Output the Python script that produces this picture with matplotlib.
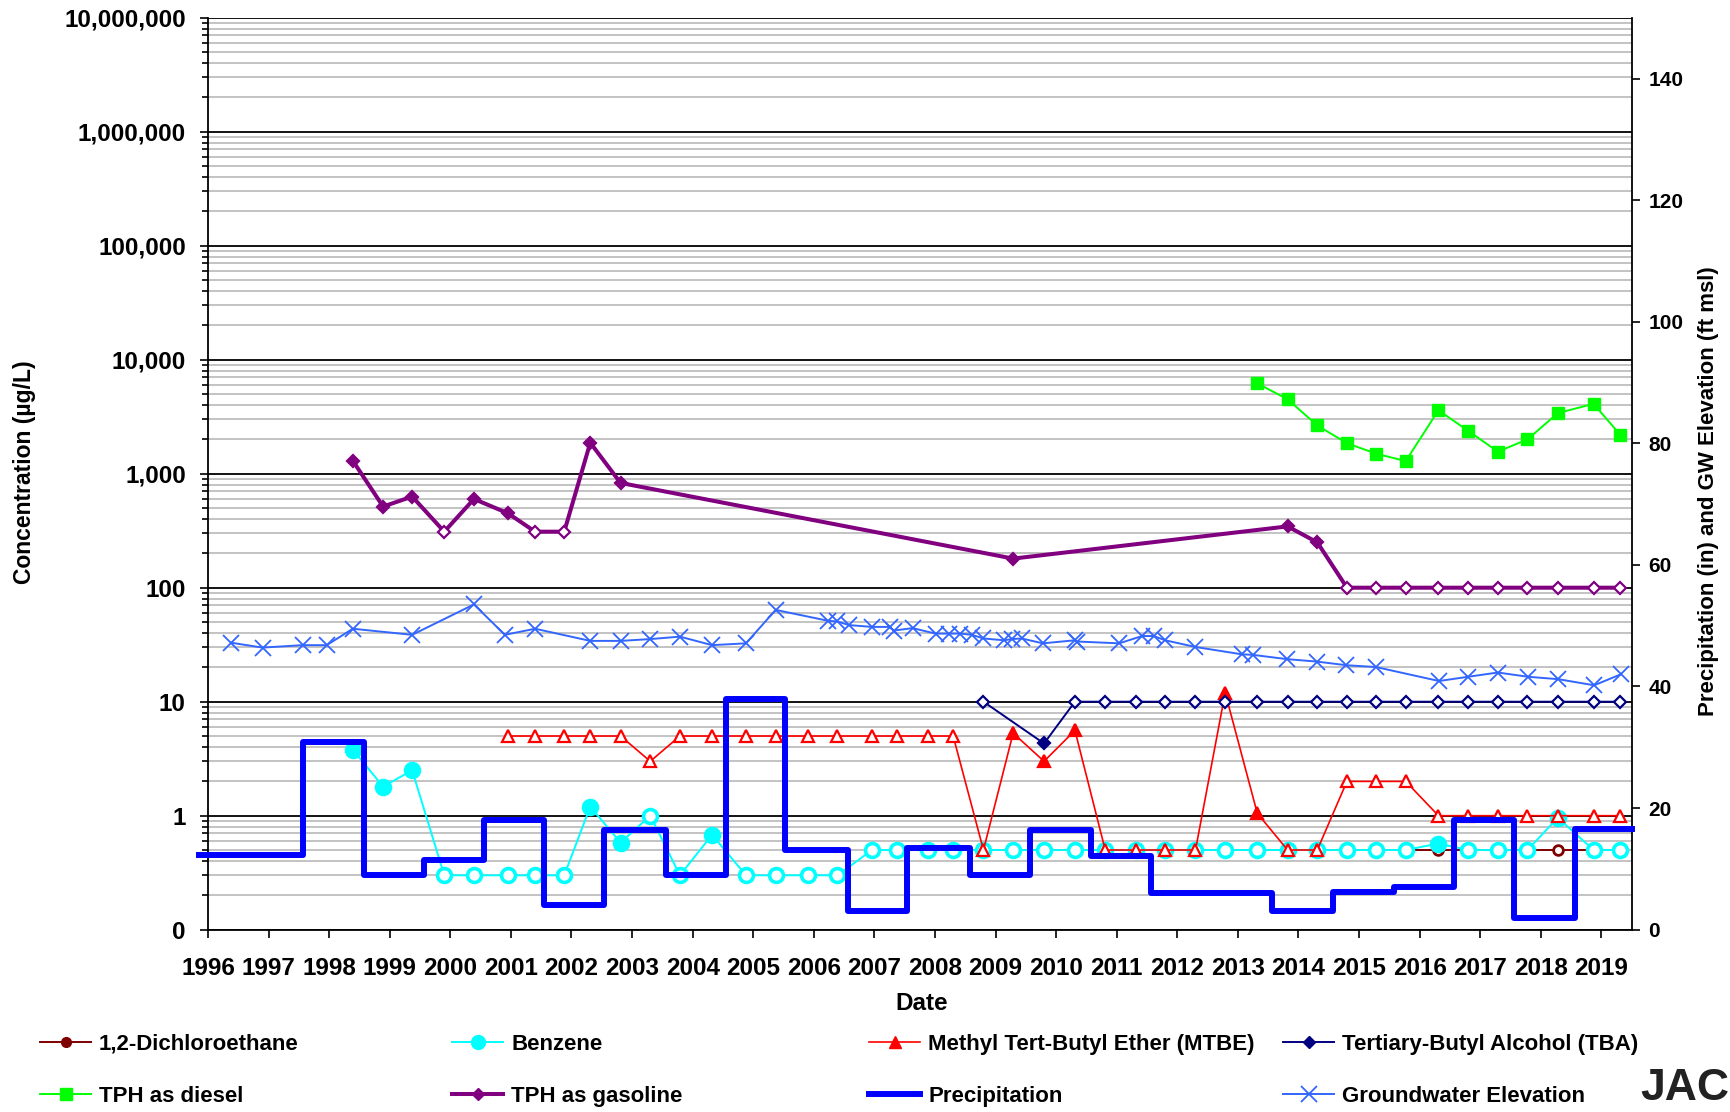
import numpy as np
import matplotlib.pyplot as plt
from matplotlib.lines import Line2D
from matplotlib.ticker import FixedLocator, FuncFormatter, NullFormatter
from matplotlib.transforms import Bbox, TransformedBbox

plt.rcParams['font.family'] = ['Liberation Sans', 'DejaVu Sans']
plt.rcParams['font.weight'] = 'bold'

# sampling dates are decimal years; det = 1 detected, 0 = not detected (open marker)
gas_date = [1998.39, 1998.89, 1999.37, 1999.90, 2000.39, 2000.95, 2001.40, 2001.88,
            2002.31, 2002.81, 2009.29, 2013.82, 2014.31, 2014.80, 2015.28, 2015.77,
            2016.31, 2016.80, 2017.29, 2017.78, 2018.28, 2018.87, 2019.31]
gas_val = [1300, 515, 630, 310, 600, 450, 310, 310, 1870, 830, 180, 345, 250,
           100, 100, 100, 100, 100, 100, 100, 100, 100, 100]
gas_det = [1, 1, 1, 0, 1, 1, 0, 0, 1, 1, 1, 1, 1, 0, 0, 0, 0, 0, 0, 0, 0, 0, 0]

diesel_date = [2013.32, 2013.82, 2014.31, 2014.80, 2015.28, 2015.77, 2016.31,
               2016.80, 2017.29, 2017.78, 2018.28, 2018.87, 2019.31]
diesel_val = [6200, 4500, 2650, 1850, 1500, 1290, 3600, 2380, 1560, 2000, 3400, 4100, 2200]
diesel_det = [1, 1, 1, 1, 1, 1, 1, 1, 1, 1, 1, 1, 1]

benz_date = [1998.39, 1998.89, 1999.37, 1999.90, 2000.39, 2000.95, 2001.40, 2001.88,
             2002.31, 2002.81, 2003.30, 2003.79, 2004.32, 2004.88, 2005.37, 2005.90,
             2006.39, 2006.96, 2007.37, 2007.88, 2008.30, 2008.80, 2009.29, 2009.80,
             2010.31, 2010.81, 2011.31, 2011.80, 2012.30, 2012.79, 2013.32, 2013.82,
             2014.31, 2014.80, 2015.28, 2015.77, 2016.31, 2016.80, 2017.29, 2017.78,
             2018.28, 2018.87, 2019.31]
benz_val = [3.8, 1.8, 2.5, 0.3, 0.3, 0.3, 0.3, 0.3, 1.2, 0.58, 1.0, 0.3, 0.68, 0.3,
            0.3, 0.3, 0.3, 0.5, 0.5, 0.5, 0.5, 0.5, 0.5, 0.5, 0.5, 0.5, 0.5, 0.5,
            0.5, 0.5, 0.5, 0.5, 0.5, 0.5, 0.5, 0.5, 0.57, 0.5, 0.5, 0.5, 0.96, 0.5, 0.5]
benz_det = [1, 1, 1, 0, 0, 0, 0, 0, 1, 1, 0, 0, 1, 0, 0, 0, 0, 0, 0, 0, 0, 0,
            0, 0, 0, 0, 0, 0, 0, 0, 0, 0, 0, 0, 0, 0, 1, 0, 0, 0, 1, 0, 0]

mtbe_date = [2000.95, 2001.40, 2001.88, 2002.31, 2002.81, 2003.30, 2003.79, 2004.32,
             2004.88, 2005.37, 2005.90, 2006.39, 2006.96, 2007.37, 2007.88, 2008.30,
             2008.80, 2009.29, 2009.80, 2010.31, 2010.81, 2011.31, 2011.80, 2012.30,
             2012.79, 2013.32, 2013.82, 2014.31, 2014.80, 2015.28, 2015.77, 2016.31,
             2016.80, 2017.29, 2017.78, 2018.28, 2018.87, 2019.31]
mtbe_val = [5, 5, 5, 5, 5, 3, 5, 5, 5, 5, 5, 5, 5, 5, 5, 5, 0.5, 5.3, 3.0, 5.6,
            0.5, 0.5, 0.5, 0.5, 12, 1.05, 0.5, 0.5, 2, 2, 2, 1, 1, 1, 1, 1, 1, 1]
mtbe_det = [0, 0, 0, 0, 0, 0, 0, 0, 0, 0, 0, 0, 0, 0, 0, 0, 0, 1, 1, 1, 0, 0, 0,
            0, 1, 1, 0, 0, 0, 0, 0, 0, 0, 0, 0, 0, 0, 0]

tba_date = [2008.80, 2009.80, 2010.31, 2010.81, 2011.31, 2011.80, 2012.30, 2012.79,
            2013.32, 2013.82, 2014.31, 2014.80, 2015.28, 2015.77, 2016.31, 2016.80,
            2017.29, 2017.78, 2018.28, 2018.87, 2019.31]
tba_val = [10, 4.3, 10, 10, 10, 10, 10, 10, 10, 10, 10, 10, 10, 10, 10, 10, 10, 10, 10, 10, 10]
tba_det = [0, 1, 0, 0, 0, 0, 0, 0, 0, 0, 0, 0, 0, 0, 0, 0, 0, 0, 0, 0, 0]

dca_date = [2008.80, 2009.80, 2010.31, 2010.81, 2011.31, 2011.80, 2012.30, 2012.79,
            2013.32, 2013.82, 2014.31, 2014.80, 2015.28, 2015.77, 2016.31, 2016.80,
            2017.29, 2017.78, 2018.28, 2018.87, 2019.31]
dca_val = [0.5, 0.5, 0.5, 0.5, 0.5, 0.5, 0.5, 0.5, 0.5, 0.5, 0.5, 0.5, 0.5, 0.5,
           0.5, 0.5, 0.5, 0.5, 0.5, 0.5, 0.5]
dca_det = [0, 0, 0, 0, 0, 0, 0, 0, 0, 0, 0, 0, 0, 0, 0, 0, 0, 0, 0, 0, 0]

# water-year precipitation (in), step starts
precip_start = [1995.85, 1997.57, 1998.57, 1999.56, 2000.56, 2001.54, 2002.54, 2003.56,
                2004.55, 2005.53, 2006.57, 2007.54, 2008.57, 2009.57, 2010.57, 2011.56,
                2012.56, 2013.56, 2014.57, 2015.57, 2016.56, 2017.56, 2018.56]
precip_in = [12.3, 30.8, 9.0, 11.5, 18.0, 4.1, 16.4, 9.0, 37.9, 13.1, 3.1, 13.4,
             9.0, 16.4, 12.1, 6.0, 6.0, 3.1, 6.2, 7.1, 18.0, 1.9, 16.6]
precip_end = 2019.5

gw_date = [1996.38, 1996.90, 1997.56, 1997.96, 1998.39, 1999.37, 2000.39, 2000.90,
           2001.40, 2002.31, 2002.81, 2003.30, 2003.79, 2004.32, 2004.88, 2005.37,
           2006.24, 2006.39, 2006.58, 2006.96, 2007.25, 2007.32, 2007.63, 2008.01,
           2008.23, 2008.42, 2008.61, 2008.80, 2009.14, 2009.27, 2009.43, 2009.78,
           2010.31, 2010.34, 2011.04, 2011.42, 2011.61, 2011.80, 2012.30, 2013.06,
           2013.25, 2013.81, 2014.30, 2014.79, 2015.28, 2016.32, 2016.80, 2017.29,
           2017.79, 2018.29, 2018.88, 2019.32]
gw_ft = [47.2, 46.4, 46.8, 46.8, 49.5, 48.5, 53.5, 48.5, 49.5, 47.5, 47.5, 47.8,
         48.2, 46.8, 47.1, 52.6, 50.8, 50.7, 50.1, 49.8, 49.8, 49.2, 49.6, 48.7,
         48.7, 48.7, 48.5, 47.9, 47.6, 47.8, 47.9, 47.1, 47.6, 47.4, 47.1, 48.3,
         48.3, 47.6, 46.5, 45.3, 45.2, 44.5, 44.1, 43.5, 43.2, 40.9, 41.6, 42.3,
         41.6, 41.2, 40.2, 42.0]

years = list(range(1996, 2020))
conc_ticks = [0.1, 1, 10, 100, 1e3, 1e4, 1e5, 1e6, 1e7]
right_ticks = [0, 20, 40, 60, 80, 100, 120, 140]


def plot_series(a, x, y, det, color, marker, ms, lw, mew, z):
    x = np.array(x)
    y = np.array(y)
    det = np.array(det, dtype=bool)
    a.plot(x, y, color=color, lw=lw, zorder=z)
    a.plot(x[det], y[det], ls='none', marker=marker, ms=ms, mfc=color, mec=color,
           mew=mew, zorder=z + 0.05)
    a.plot(x[~det], y[~det], ls='none', marker=marker, ms=ms, mfc='white', mec=color,
           mew=mew, zorder=z + 0.05)


fig = plt.figure(figsize=(17.31, 11.12), dpi=100)
ax = fig.add_axes([0.12016, 0.16394, 0.82247, 0.82014])

c_dca, c_bz, c_mtbe, c_tba = '#800000', '#00FFFF', '#FF0000', '#000080'
c_dsl, c_gas, c_pcp, c_gw = '#00FF00', '#800080', '#0000FF', '#3366FF'

plot_series(ax, dca_date, dca_val, dca_det, c_dca, 'o', 7, 1.4, 2.0, 3.0)
plot_series(ax, benz_date, benz_val, benz_det, c_bz, 'o', 10, 1.4, 2.6, 3.1)
plot_series(ax, mtbe_date, mtbe_val, mtbe_det, c_mtbe, '^', 9, 1.2, 1.6, 3.2)
plot_series(ax, tba_date, tba_val, tba_det, c_tba, 'D', 5.8, 1.4, 1.6, 3.3)
plot_series(ax, diesel_date, diesel_val, diesel_det, c_dsl, 's', 9, 1.4, 1.0, 3.4)
plot_series(ax, gas_date, gas_val, gas_det, c_gas, 'D', 6.2, 2.9, 1.6, 3.5)

ax.set_yscale('log')
ax.set_ylim(0.1, 1e7)
ax.set_xlim(1996, 2019.5)
ax.yaxis.set_major_locator(FixedLocator(conc_ticks))
ax.yaxis.set_major_formatter(FuncFormatter(lambda v, p: '{:,.0f}'.format(v)))
ax.yaxis.set_minor_locator(plt.LogLocator(base=10, subs=np.arange(2, 10)))
ax.yaxis.set_minor_formatter(NullFormatter())
ax.set_xticks(years)
ax.set_xticklabels([str(y) for y in years])
ax.set_axisbelow(True)
ax.yaxis.grid(True, which='major', color='black', lw=1.3)
ax.yaxis.grid(True, which='minor', color='#BEBEBE', lw=1.3)
ax.tick_params(axis='y', which='major', direction='out', length=6, width=1.2,
               labelsize=17.5, pad=10)
ax.tick_params(axis='y', which='minor', direction='out', length=4, width=1.2)
ax.tick_params(axis='x', direction='out', length=6, width=1.2, labelsize=17.5, pad=14)
for s in ['left', 'bottom']:
    ax.spines[s].set_linewidth(1.3)
ax.spines['top'].set_visible(False)
ax.spines['right'].set_visible(False)

ax2 = ax.twinx()
ax2.step(precip_start + [precip_end], precip_in + [precip_in[-1]], where='post',
         color=c_pcp, lw=4.3, zorder=3.0, clip_on=False)
ax2.plot(gw_date, gw_ft, color=c_gw, lw=1.4, marker='x', ms=11, mew=1.3, zorder=3.1)
ax2.set_ylim(0, 150)
ax2.set_yticks(right_ticks)
ax2.tick_params(axis='y', direction='out', length=6, width=1.2, labelsize=15, pad=6)
ax2.spines['right'].set_linewidth(1.3)
ax2.spines['top'].set_visible(False)
ax2.spines['left'].set_visible(False)
ax2.spines['bottom'].set_visible(False)

fig.text(0.0139, 0.575, 'Concentration (µg/L)', rotation=90, ha='center', va='center',
         fontsize=16.5)
fig.text(0.5326, 0.0917, 'Date', ha='center', va='baseline', fontsize=17.5)
fig.text(0.9868, 0.5585, 'Precipitation (in) and GW Elevation (ft msl)', rotation=90,
         ha='center', va='center', fontsize=16)

# legend, four columns of two rows
h = {
    'dca': Line2D([], [], color=c_dca, lw=1.4, marker='o', ms=7),
    'bz': Line2D([], [], color=c_bz, lw=1.4, marker='o', ms=10),
    'mtbe': Line2D([], [], color=c_mtbe, lw=1.2, marker='^', ms=9),
    'tba': Line2D([], [], color=c_tba, lw=1.4, marker='D', ms=5.8),
    'dsl': Line2D([], [], color=c_dsl, lw=1.4, marker='s', ms=9),
    'gas': Line2D([], [], color=c_gas, lw=2.9, marker='D', ms=6.2),
    'pcp': Line2D([], [], color=c_pcp, lw=4.3),
    'gw': Line2D([], [], color=c_gw, lw=1.4, marker='x', ms=11, mew=1.3),
}
cols = [(['dca', 'dsl'], ['1,2-Dichloroethane', 'TPH as diesel']),
        (['bz', 'gas'], ['Benzene', 'TPH as gasoline']),
        (['mtbe', 'pcp'], ['Methyl Tert-Butyl Ether (MTBE)', 'Precipitation']),
        (['tba', 'gw'], ['Tertiary-Butyl Alcohol (TBA)', 'Groundwater Elevation'])]
col_x = [40, 452, 869, 1283]
legs = []
for (keys, labels), x0 in zip(cols, col_x):
    leg = fig.legend([h[k] for k in keys], labels, loc='center left',
                     bbox_to_anchor=(x0 / 1731, 0.0375), frameon=False, fontsize=16,
                     borderpad=0, borderaxespad=0, handlelength=2.3, handletextpad=0.36,
                     labelspacing=1.38)
    legs.append(leg)
clip = TransformedBbox(Bbox([[0, 0], [1642 / 1731, 1]]), fig.transFigure)
for t in legs[-1].get_texts():
    t.set_clip_box(clip)
    t.set_clip_on(True)

fig.text(1640 / 1731, 1 - 1100 / 1112, 'JAC', fontsize=32, color='#222222',
         ha='left', va='baseline')

fig.savefig('out.png', dpi=100)
